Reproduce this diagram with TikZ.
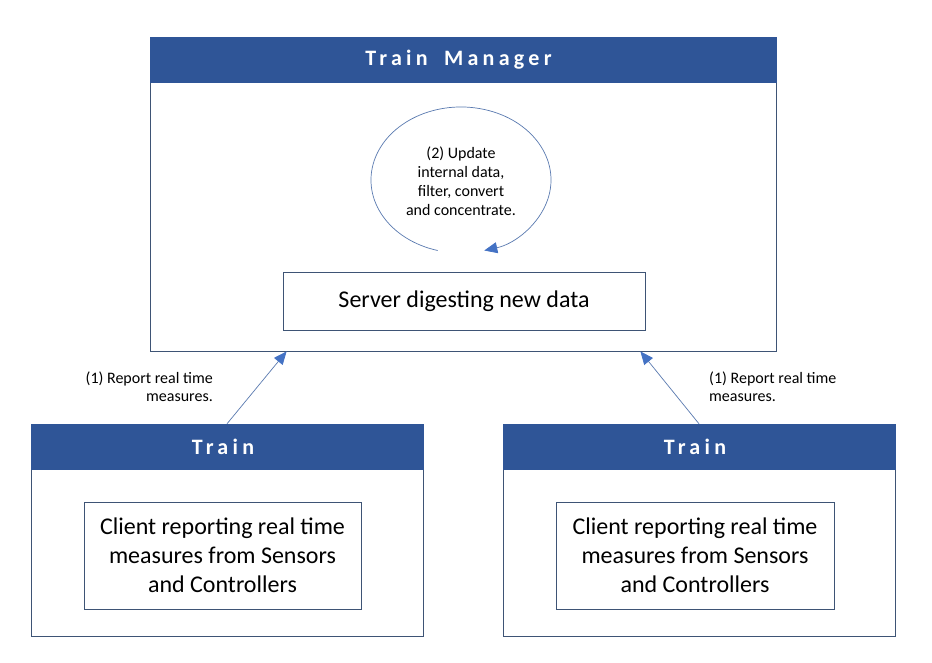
\documentclass[tikz,border=0pt]{standalone}
\usepackage{fontspec}
\setmainfont{Carlito}
\newfontfamily\titlefont[LetterSpace=19.5]{Carlito}
\usetikzlibrary{arrows.meta}
\definecolor{hdrblue}{HTML}{2F5597}
\definecolor{edge}{HTML}{3E5475}
\definecolor{arrblue}{HTML}{4472C4}
\definecolor{lineblue}{HTML}{5A7AB0}
\tikzset{
  hdr/.style={fill=hdrblue, draw=hdrblue, text=white, inner sep=0pt,
    font=\titlefont\bfseries\fontsize{22}{26}\selectfont},
  bodybox/.style={draw=edge, line width=0.8pt, fill=white, inner sep=0pt},
  innerbox/.style={draw=edge, line width=0.8pt, fill=white, inner sep=0pt, align=center,
    font=\fontsize{24}{29}\selectfont},
  note/.style={inner sep=0pt, font=\fontsize{16}{18}\selectfont},
  arr/.style={draw=lineblue, line width=0.7pt, -{Triangle[length=13pt,width=11pt,fill=arrblue,color=arrblue]}},
}
\begin{document}
\begin{tikzpicture}[x=1pt,y=1pt]
\useasboundingbox[fill=white] (0,0) rectangle (932,662);
% Train Manager
\node[bodybox, minimum width=626pt, minimum height=269pt] (mbody) at (463,445.5) {};
\node[hdr, minimum width=626pt, minimum height=45pt] (mhead) at (463,602.5) {Train\hspace{7pt} Manager\kern9pt};
\node[innerbox, minimum width=362pt, minimum height=58pt] (server) at (464,361) {Server digesting new data};
% loop
\node[note, align=center, font=\fontsize{16}{19}\selectfont] (looptext) at (461,480.5) {(2) Update\\internal data,\\filter, convert\\and concentrate.};
\coordinate (loopstart) at (437.7,411.5);
\draw[arr] (loopstart) arc[start angle=255, end angle=-75, x radius=90, y radius=73];
% Left train
\node[bodybox, minimum width=392pt, minimum height=167pt] (lbody) at (227,109.5) {};
\node[hdr, minimum width=392pt, minimum height=45pt] (lhead) at (227,215.5) {Train\kern8pt};
\node[innerbox, minimum width=277pt, minimum height=107pt] (lclient) at (222.5,106.5) {Client reporting real time\\measures from Sensors\\and Controllers};
% Right train
\node[bodybox, minimum width=392pt, minimum height=167pt] (rbody) at (699,109.5) {};
\node[hdr, minimum width=392pt, minimum height=45pt] (rhead) at (699,215.5) {Train\kern8pt};
\node[innerbox, minimum width=278pt, minimum height=107pt] (rclient) at (695,106.5) {Client reporting real time\\measures from Sensors\\and Controllers};
% connectors
\coordinate (lin) at ([xshift=137pt]mbody.south west);
\coordinate (rin) at ([xshift=-136pt]mbody.south east);
\draw[arr] (lhead.north) -- (lin);
\draw[arr] (rhead.north) -- (rin);
\node[note, anchor=east, align=right] (lnote) at (213,275) {(1) Report real time\\measures.};
\node[note, anchor=west, align=left] (rnote) at (709,275) {(1) Report real time\\measures.};
\end{tikzpicture}
\end{document}
